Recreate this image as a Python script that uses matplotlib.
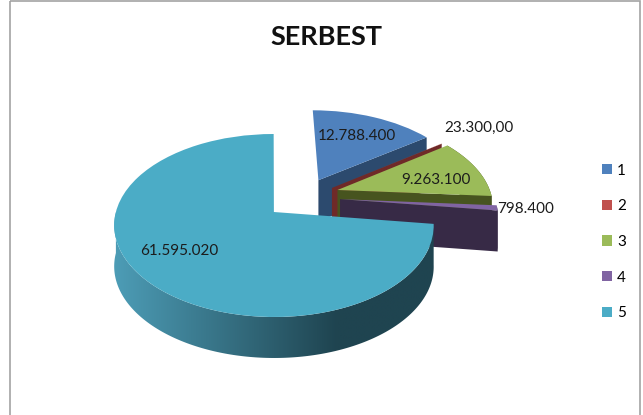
import numpy as np
import matplotlib
matplotlib.use("Agg")
import matplotlib.pyplot as plt
from matplotlib.colors import LinearSegmentedColormap
from matplotlib.patches import Patch, Polygon, Rectangle
from matplotlib.transforms import Transform

categories = ["1", "2", "3", "4", "5"]
values = [12788400, 23300, 9263100, 798400, 61595020]
value_labels = ["12.788.400", "23.300,00", "9.263.100", "798.400", "61.595.020"]
title = "SERBEST"

top_colors = ["#4f81bd", "#c0504d", "#9bbb59", "#8064a2", "#4bacc6"]
wall_colors = ["#2c4a6e", "#6f2a28", "#47541f", "#372a46", "#1f4450"]
offsets = [(0.31, 0.375), (0.395, 0.28), (0.43, 0.255), (0.44, 0.147), (0.012, 0.0)]
radii = [0.99, 1.0, 1.0, 1.0, 1.0]
label_pos = [(357, 136), (479, 128), (436, 180), (526, 209), (179, 251)]
DEPTH = 41
CX, CY, A, B, P = 272, 212, 89.5, 158, 0.1475

plt.rcParams["font.family"] = ["Lato", "DejaVu Sans"]


class Tilt(Transform):
    """Perspective view of the unit pie plane, output in pixel-like data units."""
    input_dims = output_dims = 2
    has_inverse = False
    is_separable = False

    def transform_non_affine(self, values):
        values = np.asarray(values, dtype=float)
        u, v = values[:, 0], values[:, 1]
        w = 1 + P * v
        return np.column_stack([CX + B * u / w, CY - A * v / w])


fig = plt.figure(figsize=(6.43, 4.15), dpi=100)
ax = fig.add_axes([0, 0, 1, 1])
tilt = Tilt()

wedges, _ = ax.pie(values, startangle=90, counterclock=False, colors=top_colors, radius=1)


def arc(center, r, theta1, theta2, n=200):
    t = np.radians(np.linspace(theta1, theta2, n))
    return np.column_stack([center[0] + r * np.cos(t), center[1] + r * np.sin(t)])


for i, (w, off, r) in enumerate(zip(wedges, offsets, radii)):
    base = 2 * i + 2
    w.set_center(off)
    w.set_radius(r)
    w.set_transform(tilt + ax.transData)
    w.set_zorder(base + 1)
    w.set_linewidth(0)
    w.set_clip_on(False)

    # cut face along the clockwise edge of the slice, then the outer rim
    if i < 4:
        edge = tilt.transform(np.vstack([off, arc(off, r, w.theta1, w.theta1, 1)]))
        ax.add_patch(Polygon(np.vstack([edge, edge[::-1] + [0, DEPTH]]), closed=True,
                             fc=wall_colors[i], ec="none", zorder=base))
        if i >= 2:
            rim = tilt.transform(arc(off, r, w.theta1, w.theta2))
            ax.add_patch(Polygon(np.vstack([rim, rim[::-1] + [0, DEPTH]]), closed=True,
                                 fc=wall_colors[i], ec="none", zorder=base))
    else:
        rim = tilt.transform(arc(off, r, max(w.theta1, -180), w.theta2))
        clip = Polygon(np.vstack([rim, rim[::-1] + [0, DEPTH]]), closed=True,
                       transform=ax.transData, fc="none", ec="none")
        ax.add_patch(clip)
        cmap = LinearSegmentedColormap.from_list(
            "rim", [(0, "#4e9fb9"), (0.68, "#1f4450"), (1, "#1f4450")], N=256)
        img = ax.imshow(np.linspace(0, 1, 256)[None, :], cmap=cmap, aspect="auto",
                        extent=(108, 445, 370, 210), zorder=base, interpolation="bilinear")
        img.set_clip_path(clip)

ax.set_aspect("auto")
ax.set_xlim(0, 643)
ax.set_ylim(415, 0)
ax.axis("off")

for text, (x, y) in zip(value_labels, label_pos):
    ax.text(x, y, text, ha="center", va="center", fontsize=11, color="#1c1c1c", zorder=20)

ax.text(326, 37, title, ha="center", va="center", fontsize=19.5, fontweight="bold", color="#111111")

ax.add_patch(Rectangle((10, 1), 630, 430, fill=False, ec="#a3a3a3", lw=1.2, zorder=1))

handles = [Patch(fc=c, ec="none", label=l) for c, l in zip(top_colors, categories)]
ax.legend(handles=handles, loc="upper left", bbox_to_anchor=(602 / 643, 1 - 163.5 / 415), frameon=False,
          fontsize=11, handlelength=0.68, handleheight=0.68, handletextpad=0.3,
          labelspacing=1.42, borderpad=0, borderaxespad=0)

fig.savefig("out.png", dpi=100)
